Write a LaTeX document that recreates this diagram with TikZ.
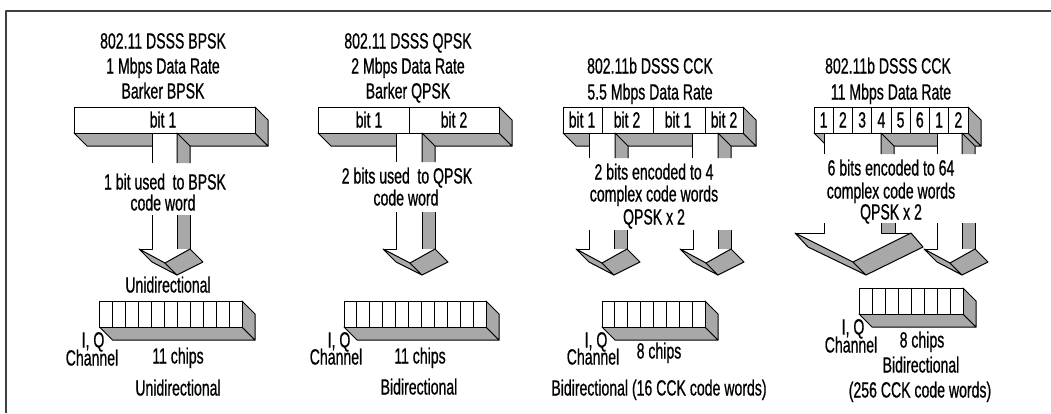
\documentclass[tikz,border=0pt]{standalone}
\usepackage{fontspec}
\setmainfont[FakeStretch=0.64,FakeBold=0.7]{Liberation Sans}
\definecolor{facegray}{HTML}{A8A8A8}
\begin{document}
\begin{tikzpicture}[x=1pt, y=-1pt, line join=round]
\tikzstyle{every node}=[inner sep=0pt, text=black, text height=15pt, text depth=0pt, font=\fontsize{22}{23}\selectfont]
\tikzstyle{face}=[fill=facegray, draw=black, line width=1pt]
\tikzstyle{cell}=[fill=white, draw=black, line width=1pt]
\tikzstyle{edgeline}=[draw=black, line width=1pt]
\tikzstyle{frameline}=[draw=black!75, line width=2pt]
\useasboundingbox (0,0) rectangle (1051,413);

% outer frame, open to the right and below
\draw[frameline] (6,413) -- (6,10.5) -- (1051,10.5);

% bars: x0/x1/y/depth bottom
\foreach \a/\b/\y in {74/255/107, 318/499/107, 563/743/107, 814/968/107}{
  \path[face] (\a,\y+26) -- (\a+13,\y+39) -- (\b+13,\y+39) -- (\b,\y+26) -- cycle;
  \path[face] (\b,\y) -- (\b+13,\y+13) -- (\b+13,\y+39) -- (\b,\y+26) -- cycle;
  \path[cell] (\a,\y) rectangle (\b,\y+26);
}
\foreach \x in {409, 602, 653, 705}
  \draw[edgeline] (\x,107) -- (\x,133);
\foreach \n in {1,...,7}
  \draw[edgeline] (814+19.25*\n,107) -- (814+19.25*\n,133);

% stems under the bars
\foreach \a/\b/\e in {152/177/163, 396/422/162, 589/615/158, 692/718/158, 824/881/154, 937/962/154}{
  \fill[white] (\a,133.5) rectangle (\b,\e);
  \draw[edgeline] (\a,133) -- (\a,\e);
  \fill[facegray] (\b,133) -- (\b+13,146) -- (\b+13,\e) -- (\b,\e) -- cycle;
  \draw[edgeline] (\b,\e) -- (\b,133) -- (\b+13,146) -- (\b+13,\e);
}

% stems and heads of the arrows
\foreach \a/\b/\t in {152/177/215, 396/422/212, 589/614/230, 693/718/230, 937/962/223}{
  \draw[edgeline] (\a,\t) -- (\a,249) -- (\a-13,249);
  \fill[facegray] (\b,\t) rectangle (\b+13,249);
  \draw[edgeline] (\b,\t) -- (\b,249);
  \draw[edgeline] (\b+13,\t) -- (\b+13,249);
  \path[face] (\a-13,249) -- (\b-12,263) -- (\b,275) -- (\a,262) -- cycle;
  \path[face] (\b-12,263) -- (\b+13,249) -- (\b+26,262) -- (\b,275) -- cycle;
}
% wide arrow
\draw[edgeline] (824,223) -- (824,233) -- (795,233);
\fill[facegray] (881,223) rectangle (895,233);
\draw[edgeline] (881,223) -- (881,233) -- (911,233) (895,223) -- (895,233);
\path[face] (795,233) -- (853,262) -- (866,275) -- (808,247) -- cycle;
\path[face] (853,262) -- (911,233) -- (923,247) -- (866,275) -- cycle;

% chips
\foreach \a/\b/\y/\c in {99.5/242/301/11, 344/486/301/11, 602/705/301/8, 859/963/288/8}{
  \path[face] (\a,\y+26) -- (\a+13,\y+39) -- (\b+13,\y+39) -- (\b,\y+26) -- cycle;
  \path[face] (\b,\y) -- (\b+13,\y+13) -- (\b+13,\y+39) -- (\b,\y+26) -- cycle;
  \path[cell] (\a,\y) rectangle (\b,\y+26);
  \foreach \n in {1,...,\c}
    \draw[edgeline] ({\a+(\b-\a)*\n/\c},\y) -- ({\a+(\b-\a)*\n/\c},\y+26);
}

% first column
\node (a1) at (163,41) {802.11 DSSS BPSK};
\node (a2) at (163,66) {1 Mbps Data Rate};
\node (a3) at (163,91) {Barker BPSK};
\node (a4) at (163,120) {bit 1};
\node (a5) at (165,182) {1 bit used\, to BPSK};
\node (a6) at (163,203) {code word};
\node (a7) at (168,285) {Unidirectional};
\node (a8) at (93,340) {I, Q};
\node (a9) at (92,358) {Channel};
\node (a10) at (178,356) {11 chips};
\node (a11) at (178,388) {Unidirectional};

% second column
\node (b1) at (408,41) {802.11 DSSS QPSK};
\node (b2) at (408,66) {2 Mbps Data Rate};
\node (b3) at (408,91) {Barker QPSK};
\node (b4) at (369,120) {bit 1};
\node (b5) at (454,120) {bit 2};
\node (b6) at (407,176) {2 bits used\, to QPSK};
\node (b7) at (406,198) {code word};
\node (b8) at (339,340) {I, Q};
\node (b9) at (336,357) {Channel};
\node (b10) at (420,356) {11 chips};
\node (b11) at (419,387) {Bidirectional};

% third column
\node (c1) at (650,66) {802.11b DSSS CCK};
\node (c2) at (650,92) {5.5 Mbps Data Rate};
\node (c3) at (582,120) {bit 1};
\node (c4) at (627,120) {bit 2};
\node (c5) at (678,120) {bit 1};
\node (c6) at (724,120) {bit 2};
\node (c7) at (654,172) {2 bits encoded to 4};
\node (c8) at (654,194) {complex code words};
\node (c9) at (654,217) {QPSK x 2};
\node (c10) at (596,340) {I, Q};
\node (c11) at (593,357) {Channel};
\node (c12) at (659,351) {8 chips};
\node (c13) at (659,388) {Bidirectional (16 CCK code words)};

% fourth column
\node (d1) at (888,66) {802.11b DSSS CCK};
\node (d2) at (891,92) {11 Mbps Data Rate};
\foreach \n/\t in {0/1, 1/2, 2/3, 3/4, 4/5, 5/6, 6/1, 7/2}
  \node (e\n) at (823.6+19.25*\n,120) {\t};
\node (d3) at (891,168) {6 bits encoded to 64};
\node (d4) at (891,191) {complex code words};
\node (d5) at (891,212) {QPSK x 2};
\node (d6) at (853,327) {I, Q};
\node (d7) at (851,345) {Channel};
\node (d8) at (922,340) {8 chips};
\node (d9) at (921,365) {Bidirectional};
\node (d10) at (920,390) {(256 CCK code words)};
\end{tikzpicture}
\end{document}
